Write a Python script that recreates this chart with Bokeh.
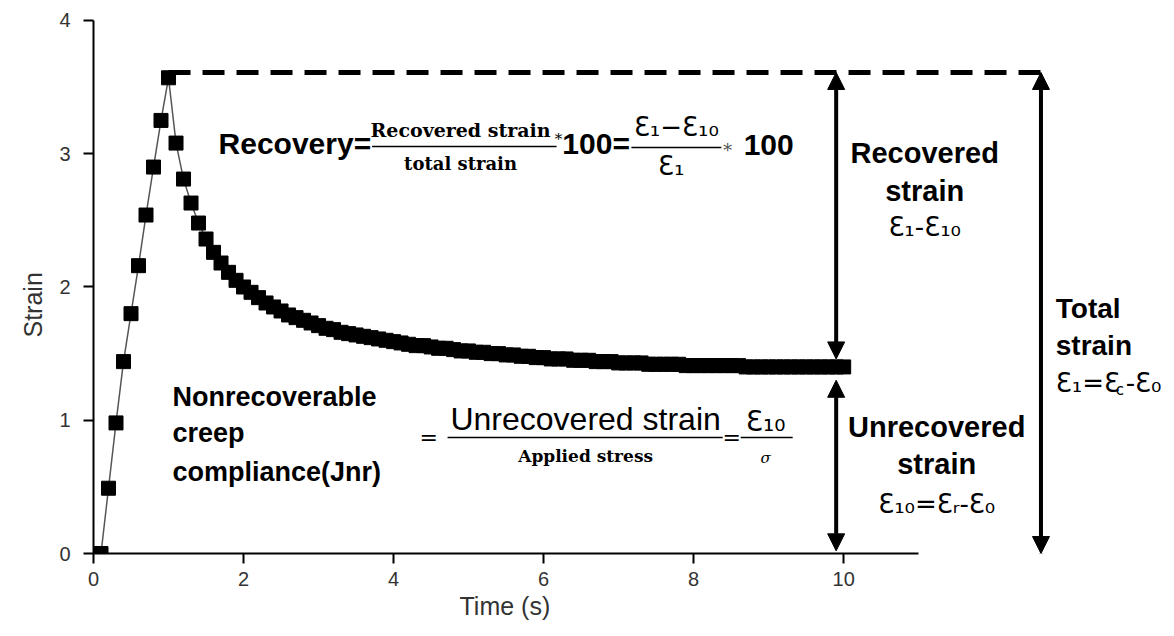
from bokeh.plotting import figure
from bokeh.models import Range1d, FixedTicker, Arrow, NormalHead, Title
from bokeh.core.properties import value
from bokeh.embed import file_html
from bokeh.resources import INLINE

# MSCR creep/recovery cycle: 1 s loading followed by 9 s recovery
time = [
    0.1, 0.2, 0.3, 0.4, 0.5, 0.6, 0.7, 0.8, 0.9, 1.0,
    1.1, 1.2, 1.3, 1.4, 1.5, 1.6, 1.7, 1.8, 1.9, 2.0,
    2.1, 2.2, 2.3, 2.4, 2.5, 2.6, 2.7, 2.8, 2.9, 3.0,
    3.1, 3.2, 3.3, 3.4, 3.5, 3.6, 3.7, 3.8, 3.9, 4.0,
    4.1, 4.2, 4.3, 4.4, 4.5, 4.6, 4.7, 4.8, 4.9, 5.0,
    5.1, 5.2, 5.3, 5.4, 5.5, 5.6, 5.7, 5.8, 5.9, 6.0,
    6.1, 6.2, 6.3, 6.4, 6.5, 6.6, 6.7, 6.8, 6.9, 7.0,
    7.1, 7.2, 7.3, 7.4, 7.5, 7.6, 7.7, 7.8, 7.9, 8.0,
    8.1, 8.2, 8.3, 8.4, 8.5, 8.6, 8.7, 8.8, 8.9, 9.0,
    9.1, 9.2, 9.3, 9.4, 9.5, 9.6, 9.7, 9.8, 9.9, 10.0,
]
strain = [
    0.00, 0.49, 0.98, 1.44, 1.80, 2.16, 2.54, 2.90, 3.25, 3.57,
    3.08, 2.81, 2.63, 2.48, 2.36, 2.26, 2.18, 2.11, 2.05, 2.00,
    1.96, 1.92, 1.88, 1.85, 1.82, 1.79, 1.77, 1.75, 1.73, 1.71,
    1.69, 1.68, 1.66, 1.65, 1.64, 1.63, 1.62, 1.61, 1.60, 1.59,
    1.58, 1.57, 1.56, 1.56, 1.55, 1.54, 1.54, 1.53, 1.52, 1.52,
    1.51, 1.51, 1.50, 1.50, 1.49, 1.49, 1.48, 1.48, 1.47, 1.47,
    1.46, 1.46, 1.46, 1.45, 1.45, 1.45, 1.44, 1.44, 1.44, 1.43,
    1.43, 1.43, 1.43, 1.42, 1.42, 1.42, 1.42, 1.42, 1.41, 1.41,
    1.41, 1.41, 1.41, 1.41, 1.41, 1.41, 1.40, 1.40, 1.40, 1.40,
    1.40, 1.40, 1.40, 1.40, 1.40, 1.40, 1.40, 1.40, 1.40, 1.40,
]
x_ticks = [0, 2, 4, 6, 8, 10]
y_ticks = [0, 1, 2, 3, 4]

total_strain = 3.61          # strain level at the end of loading
peak_time = 1.0
final_strain = strain[-1]    # unrecovered strain at 10 s

SANS = "Liberation Sans"
SERIF = "DejaVu Serif"
EPS = "DejaVu Sans"
INK = "#333333"

p = figure(width=1174, height=636, x_range=Range1d(0, 14.41), y_range=Range1d(0, 4.15),
           output_backend="svg", toolbar_location=None,
           min_border_left=93, min_border_right=0, min_border_top=0, min_border_bottom=83)
p.outline_line_color = None
p.xgrid.visible = False
p.ygrid.visible = False
p.background_fill_color = "white"
p.border_fill_color = "white"

for ax in (p.xaxis, p.yaxis):
    ax.axis_line_width = 2
    ax.axis_line_color = "black"
    ax.major_tick_line_width = 2
    ax.major_tick_line_color = "black"
    ax.major_tick_in = 0
    ax.major_tick_out = 10
    ax.minor_tick_line_color = None
    ax.major_label_text_font = SANS
    ax.major_label_text_font_size = "20px"
    ax.major_label_text_color = INK

p.xaxis.ticker = FixedTicker(ticks=x_ticks)
p.yaxis.ticker = FixedTicker(ticks=y_ticks)
p.xaxis.bounds = (0, 11)
p.yaxis.bounds = (0, 4)
p.xaxis.major_label_standoff = 8
p.yaxis.major_label_standoff = 13

# axis titles, placed along the drawn axis extents rather than the whole frame
p.add_layout(Title(text="Time (s)", align="left", offset=366, standoff=2,
                   text_font=SANS, text_font_size="25px", text_font_style="normal",
                   text_color=INK), "below")
p.add_layout(Title(text="Strain", align="left", offset=216, standoff=16, vertical_align="top",
                   text_font=SANS, text_font_size="25px", text_font_style="normal",
                   text_color=INK), "left")

# measured response
p.line(time, strain, line_color="#555555", line_width=1.5)
p.scatter(time, strain, marker="square", size=14, fill_color="black", line_color="black")

# total strain reference level
p.line([peak_time, 12.72], [total_strain, total_strain], line_color="black",
       line_width=5, line_dash="22 12")


def head():
    return NormalHead(size=17, fill_color="black", line_color="black", line_width=1)


arrow_x = 9.9
p.add_layout(Arrow(x_start=arrow_x, y_start=total_strain, x_end=arrow_x, y_end=final_strain + 0.06,
                   start=head(), end=head(), line_width=4, line_color="black"))
p.add_layout(Arrow(x_start=arrow_x, y_start=final_strain - 0.10, x_end=arrow_x, y_end=0.02,
                   start=head(), end=head(), line_width=4, line_color="black"))
p.add_layout(Arrow(x_start=12.63, y_start=total_strain, x_end=12.63, y_end=0.0,
                   start=head(), end=head(), line_width=4, line_color="black"))


def put(x, y, txt, size, font=SANS, style="bold", align="left", color="black", dy=0):
    p.text(x=[x], y=[y], text=[txt], text_font=value(font), text_font_size=f"{size}px",
           text_font_style=style, text_align=align, text_baseline="middle",
           text_color=color, y_offset=dy)


def bar(x0, x1, y):
    p.segment(x0=[x0], y0=[y], x1=[x1], y1=[y], line_color="black", line_width=1.5)


# percent recovery
put(1.667, 3.077, "Recovery=", 30)
put(4.893, 3.178, "Recovered strain", 19, font=SERIF, align="center")
bar(3.713, 6.173, 3.054)
put(4.893, 2.927, "total strain", 18, font=SERIF, align="center")
put(6.2, 3.114, "*", 15, font=SERIF, style="normal", align="center")
put(6.25, 3.077, "100=", 30)
put(7.77, 3.197, "Ɛ₁−Ɛ₁₀", 26, font=EPS, style="normal", align="center")
bar(7.17, 8.37, 3.047)
put(7.70, 2.905, "Ɛ₁", 26, font=EPS, style="normal", align="center")
put(8.45, 3.054, "∗", 18, font=SERIF, style="normal", align="center", color="#555555")
put(8.667, 3.069, "100", 30)

# non-recoverable creep compliance
put(1.053, 1.171, "Nonrecoverable", 27)
put(1.053, 0.901, " creep", 27)
put(1.053, 0.608, "compliance(Jnr)", 27)
put(4.467, 0.871, "=", 22, font=SERIF, style="normal", align="center")
put(6.56, 1.006, "Unrecovered strain", 32, style="normal", align="center")
bar(4.72, 8.387, 0.871)
put(6.56, 0.728, "Applied stress", 17, font=SERIF, align="center")
put(8.507, 0.871, "=", 22, font=SERIF, style="normal", align="center")
put(8.96, 0.991, "Ɛ₁₀", 28, font=EPS, style="normal", align="center")
bar(8.627, 9.32, 0.871)
put(8.96, 0.72, "σ", 15, font=SERIF, style="italic", align="center")

# strain components
put(11.08, 3.002, "Recovered", 29, align="center")
put(11.08, 2.724, "strain", 29, align="center")
put(11.08, 2.447, "Ɛ₁-Ɛ₁₀", 26, font=EPS, style="normal", align="center")

put(11.24, 0.946, "Unrecovered", 29, align="center")
put(11.24, 0.675, "strain", 29, align="center")
put(11.24, 0.375, "Ɛ₁₀=Ɛᵣ-Ɛ₀", 26, font=EPS, style="normal", align="center")

put(12.827, 1.839, "Total", 28)
put(12.827, 1.561, "strain", 28)
put(12.827, 1.276, "Ɛ₁=Ɛ", 26, font=EPS, style="normal")
put(13.627, 1.276, "c", 15, font=EPS, style="normal", dy=7)
put(13.76, 1.276, "-Ɛ₀", 26, font=EPS, style="normal")

open("out.html", "w").write(file_html(p, INLINE))
